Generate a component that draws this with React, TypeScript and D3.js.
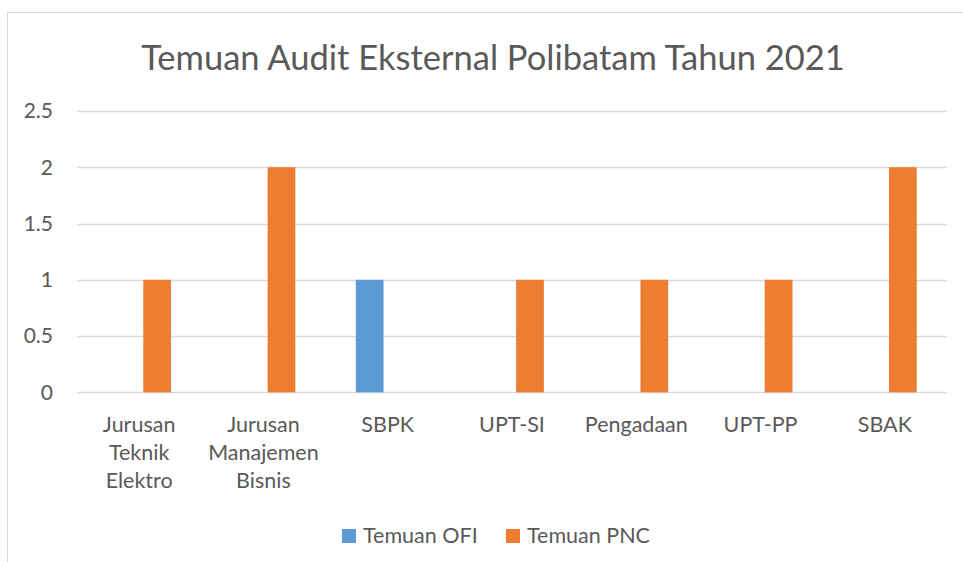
import { useEffect, useRef } from 'react';
import * as d3 from 'd3';

const categories = [
  'Jurusan Teknik Elektro',
  'Jurusan Manajemen Bisnis',
  'SBPK',
  'UPT-SI',
  'Pengadaan',
  'UPT-PP',
  'SBAK',
];
const seriesNames = ['Temuan OFI', 'Temuan PNC'];
const ofiValues = [0, 0, 1, 0, 0, 0, 0];
const pncValues = [1, 2, 0, 1, 1, 1, 2];
const yTicks = [0, 0.5, 1, 1.5, 2, 2.5];
const colors = ['#5b9bd5', '#ed7d31'];

const FONT = 'Lato, "Liberation Sans", sans-serif';
const TEXT = '#595959';

export default function App() {
  const svgRef = useRef<SVGSVGElement>(null);

  useEffect(() => {
    if (!svgRef.current) return;
    const svg = d3.select(svgRef.current);
    svg.selectAll('*').remove();

    const width = 963;
    const height = 562;
    const margin = { top: 111, right: 16, bottom: 170, left: 77 };

    // chart frame
    svg.append('rect')
      .attr('x', 7.5).attr('y', 12.5)
      .attr('width', 980).attr('height', 600)
      .attr('fill', '#fff')
      .attr('stroke', '#d9d9d9');

    svg.append('text')
      .attr('x', 493).attr('y', 70)
      .attr('text-anchor', 'middle')
      .attr('font-family', FONT)
      .attr('font-size', 34.5)
      .attr('fill', TEXT)
      .text('Temuan Audit Eksternal Polibatam Tahun 2021');

    const x0 = d3.scaleBand<string>()
      .domain(categories)
      .range([margin.left, width - margin.right])
      .padding(0);

    const x1 = d3.scaleBand<string>()
      .domain(seriesNames)
      .range([0, x0.bandwidth()])
      .paddingInner(0.23)
      .paddingOuter(0.84);

    const y = d3.scaleLinear()
      .domain([0, 2.5])
      .range([height - 169.7, margin.top]);

    const g = svg.append('g');

    // gridlines
    g.selectAll('line.grid')
      .data(yTicks)
      .enter()
      .append('line')
      .attr('class', 'grid')
      .attr('x1', margin.left)
      .attr('x2', width - margin.right)
      .attr('y1', (d) => Math.round(y(d)) + 0.5)
      .attr('y2', (d) => Math.round(y(d)) + 0.5)
      .attr('stroke', '#d9d9d9')
      .attr('stroke-width', 1.5);

    // y labels
    g.selectAll('text.ytick')
      .data(yTicks)
      .enter()
      .append('text')
      .attr('class', 'ytick')
      .attr('x', 53)
      .attr('y', (d) => y(d))
      .attr('dy', '0.35em')
      .attr('text-anchor', 'end')
      .attr('font-family', FONT)
      .attr('font-size', 21)
      .attr('fill', TEXT)
      .text((d) => String(d));

    // bars
    const rows = categories.map((c, i) => ({
      cat: c,
      values: [ofiValues[i], pncValues[i]],
    }));

    const groups = g.selectAll('g.cat')
      .data(rows)
      .enter()
      .append('g')
      .attr('class', 'cat')
      .attr('transform', (d) => `translate(${x0(d.cat)},0)`);

    groups.selectAll('rect')
      .data((d) => d.values.map((v, j) => ({ key: seriesNames[j], v, j })))
      .enter()
      .append('rect')
      .attr('x', (d) => x1(d.key)!)
      .attr('width', x1.bandwidth())
      .attr('y', (d) => y(d.v))
      .attr('height', (d) => y(0) - y(d.v))
      .attr('fill', (d) => colors[d.j]);

    // category labels (wrapped by word)
    const labels = g.selectAll('text.xlab')
      .data(categories)
      .enter()
      .append('text')
      .attr('class', 'xlab')
      .attr('text-anchor', 'middle')
      .attr('font-family', FONT)
      .attr('font-size', 21.5)
      .attr('fill', TEXT);

    labels.each(function (d) {
      const t = d3.select(this);
      const cx = (x0(d) ?? 0) + x0.bandwidth() / 2;
      d.split(' ').forEach((word, k) => {
        t.append('tspan')
          .attr('x', cx)
          .attr('y', 432 + k * 28)
          .text(word);
      });
    });

    // legend
    const legend = svg.append('g');
    const legendX = [342, 506];
    seriesNames.forEach((name, i) => {
      legend.append('rect')
        .attr('x', legendX[i]).attr('y', 529)
        .attr('width', 14).attr('height', 14)
        .attr('fill', colors[i]);
      legend.append('text')
        .attr('x', legendX[i] + 21).attr('y', 543)
        .attr('font-family', FONT)
        .attr('font-size', 21.5)
        .attr('fill', TEXT)
        .text(name);
    });
  }, []);

  return (
    <svg
      ref={svgRef}
      width={963}
      height={562}
      style={{ position: 'absolute', left: 0, top: 0, display: 'block' }}
    />
  );
}
